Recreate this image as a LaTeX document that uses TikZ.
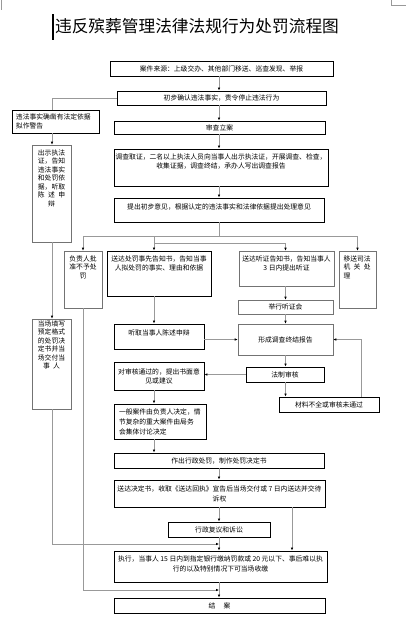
\documentclass[tikz,border=0pt]{standalone}
\usepackage{fontspec}
\setmainfont{Noto Sans CJK SC}
\usetikzlibrary{arrows.meta,positioning}
\definecolor{linegray}{gray}{0.6}
\definecolor{boxgray}{gray}{0.45}
\newcommand{\sgap}{\hspace{0.5em}}

\begin{document}
\begin{tikzpicture}[
  x = 1pt, y = -1pt,
  every node/.style = {font = \fontsize{6.8}{9}\selectfont},
  box/.style = {draw, line width = 0.9pt, inner sep = 0pt, align = center},
  thinbox/.style = {draw = boxgray, line width = 0.6pt, inner sep = 0pt, align = center},
  txt/.style = {inner sep = 0pt, align = center},
  narrow/.style = {txt, font = \fontsize{6.8}{8.5}\selectfont},
  line/.style = {draw = linegray, line width = 0.7pt},
  arrow/.style = {line, -{Latex[length = 3pt, width = 2.6pt, color = black]}},
  ]
  \useasboundingbox (0, 0) rectangle (406, 627);
  \draw[linegray, line width = 0.6pt] (1.5, 0) -- (1.5, 10);
  \draw[linegray, line width = 0.6pt] (391, 0) -- (391, 5) -- (406, 5);
  \draw[line width = 1.2pt] (53, 14) -- (53, 40);
  \node[font = \fontsize{16.7}{20}\selectfont] (title) at (197, 26) {违反殡葬管理法律法规行为处罚流程图};

  \coordinate (mc) at (219, 0);
  \coordinate (lc) at (154, 0);
  \coordinate (hc) at (285.5, 0);
  \coordinate (rc) at (292, 0);
  \coordinate (fc) at (361, 0);
  \coordinate (wc) at (52, 0);
  \coordinate (split1) at (219, 236);
  \coordinate (split2) at (219, 243);
  \coordinate (j1) at (219, 544);
  \coordinate (j2) at (219, 590);

  \node[box, minimum width = 223pt, minimum height = 15pt] (src) at (221.5, 68.5)
    {案件来源：上级交办、其他部门移送、巡查发现、举报};
  \node[box, minimum width = 209pt, minimum height = 14pt] (confirm) at (221.5, 98)
    {初步确认违法事实，责令停止违法行为};
  \node[box, line width = 0.7pt, minimum width = 87pt, minimum height = 23pt,
        text width = 79pt, align = left] (warn) at (55.5, 121.5)
    {违法事实确凿有法定依据\\拟作警告};
  \node[thinbox, minimum width = 39pt, minimum height = 97pt] (showcert) at (51.5, 193.5) {};
  \node[narrow, below = 4.6pt of showcert.north] (showcert-t)
    {出示执法\\证，告知\\违法事实\\和处罚依\\据，听取\\陈\sgap 述\sgap 申\\辩\hspace{3em}};
  \node[thinbox, minimum width = 39pt, minimum height = 90pt] (onsite) at (51.5, 364) {};
  \node[narrow, below = 1.6pt of onsite.north] (onsite-t)
    {当场填写\\预定格式\\的处罚决\\定书并当\\场交付当\\事\sgap 人};

  \node[box, minimum width = 211pt, minimum height = 13pt] (file) at (219.5, 127.5) {审查立案};
  \node[box, minimum width = 214pt, minimum height = 37pt] (investigate) at (221, 167.5) {};
  \node[txt, below = 4.6pt of investigate.north] (investigate-t)
    {调查取证，二名以上执法人员向当事人出示执法证，开展调查、检查，\\收集证据，调查终结，承办人写出调查报告};
  \node[box, minimum width = 210pt, minimum height = 24pt] (propose) at (219, 210) {};
  \node[txt, below = 5.6pt of propose.north] (propose-t)
    {提出初步意见，根据认定的违法事实和法律依据提出处理意见};

  \node[thinbox, minimum width = 38pt, minimum height = 57pt] (norule) at (83, 279.5) {};
  \node[narrow, below = 4.6pt of norule.north] (norule-t) {负责人批\\准不予处\\罚};
  \node[box, minimum width = 104pt, minimum height = 45pt] (notify) at (159, 273.5) {};
  \node[txt, below = 4.6pt of notify.north] (notify-t)
    {送达处罚事先告知书，告知当事\\人拟处罚的事实、理由和依据};
  \node[thinbox, minimum width = 95pt, minimum height = 35pt] (hearnote) at (286.5, 268.5) {};
  \node[txt, below = 4.6pt of hearnote.north] (hearnote-t)
    {送达听证告知书，告知当事人\\3 日内提出听证};
  \node[thinbox, minimum width = 37pt, minimum height = 57pt] (transfer) at (357.5, 279.5) {};
  \node[narrow, below = 4.6pt of transfer.north, text width = 28pt, align = left] (transfer-t)
    {移送司法\\机\sgap 关\sgap 处\\理};

  \node[thinbox, minimum width = 95pt, minimum height = 14pt] (hearing) at (285.5, 307) {举行听证会};
  \node[box, minimum width = 90pt, minimum height = 25pt] (defend) at (159, 336.5) {};
  \node[txt, below = 5.6pt of defend.north] (defend-t) {听取当事人陈述申辩};
  \node[thinbox, minimum width = 95pt, minimum height = 31pt] (report) at (285.5, 339.5) {形成调查终结报告};
  \node[box, minimum width = 78pt, minimum height = 15pt] (legal) at (285, 374.5) {法制审核};
  \node[box, minimum width = 90pt, minimum height = 28pt] (opinion) at (159, 376)
    {对审核通过的，提出书面意\\见或建议};
  \node[box, minimum width = 100pt, minimum height = 15pt] (reject) at (329, 404.5) {材料不全或审核未通过};
  \node[box, minimum width = 92pt, minimum height = 35pt, text width = 82pt, align = left,
        font = \fontsize{6.8}{10}\selectfont] (decide) at (160, 421.5)
    {一般案件由负责人决定，情\\节复杂的重大案件由局务\\会集体讨论决定};

  \node[box, minimum width = 210pt, minimum height = 15pt] (penalty) at (219, 460.5)
    {作出行政处罚，制作处罚决定书};
  \node[box, minimum width = 211pt, minimum height = 27pt, font = \fontsize{6.8}{10}\selectfont]
    (serve) at (219.5, 493.5)
    {送达决定书，收取《送达回执》宣告后当场交付或 7 日内送达并交待\\诉权};
  \node[box, minimum width = 102pt, minimum height = 15pt] (review) at (219, 529.5) {行政复议和诉讼};
  \node[box, minimum width = 213pt, minimum height = 31pt] (execute) at (220.5, 566.5) {};
  \node[txt, below = 4.6pt of execute.north, font = \fontsize{6.8}{10}\selectfont] (execute-t)
    {执行，当事人 15 日内到指定银行缴纳罚款或 20 元以下、事后难以执\\行的以及特别情况下可当场收缴};
  \node[box, minimum width = 211pt, minimum height = 15pt] (close) at (219.5, 605.5)
    {结\hspace{1.2em}案};

  \draw[arrow] (src.south -| mc) -- (confirm.north -| mc);
  \draw[line] (confirm.west) -| (warn.north -| wc);
  \draw[arrow] (warn.south -| wc) -- (showcert.north -| wc);
  \draw[arrow] (showcert.south -| wc) -- (onsite.north -| wc);
  \draw[arrow] (onsite.south -| wc) |- (j1);
  \draw[arrow] (confirm.south -| mc) -- (file.north -| mc);
  \draw[arrow] (file.south -| mc) -- (investigate.north -| mc);
  \draw[arrow] (investigate.south -| mc) -- (propose.north -| mc);
  \draw[line] (propose.south -| mc) -- (split1);
  \draw[line] (split1 -| norule) -- (split1 -| transfer);
  \draw[arrow] (split1 -| norule) -- (norule.north);
  \draw[arrow] (split1 -| transfer) -- (transfer.north);
  \draw[arrow] (split1 -| lc) -- (notify.north -| lc);
  \draw[line] (split2 -| lc) -- (split2 -| hc);
  \draw[arrow] (split2 -| hc) -- (hearnote.north -| hc);
  \draw[arrow] (hearnote.south -| hc) -- (hearing.north -| hc);
  \draw[arrow] (hearing.south -| hc) -- (report.north -| hc);
  \draw[arrow] (notify.south -| lc) -- (defend.north -| lc);
  \draw[arrow] (report.west -| defend.east) -- (report.west);
  \draw[arrow] (report.south -| hc) -- (legal.north -| hc);
  \draw[arrow] (legal.west) -- (legal.west -| opinion.east);
  \draw[arrow] (legal.south -| hc) -- (reject.north -| hc);
  \draw[arrow] (reject.north -| fc) |- (report.east);
  \draw[arrow] (opinion.south -| lc) -- (decide.north -| lc);
  \draw[arrow] (decide.south -| lc) -- (penalty.north -| lc);
  \draw[arrow] (penalty.south -| mc) -- (serve.north -| mc);
  \draw[arrow] (serve.south -| mc) -- (review.north -| mc);
  \draw[arrow] (serve.south -| rc) -- (execute.north -| rc);
  \draw[arrow] (review.south -| mc) -- (execute.north -| mc);
  \draw[arrow] (norule.south) |- (j2);
  \draw[arrow] (execute.south -| mc) -- (close.north -| mc);
\end{tikzpicture}
\end{document}
